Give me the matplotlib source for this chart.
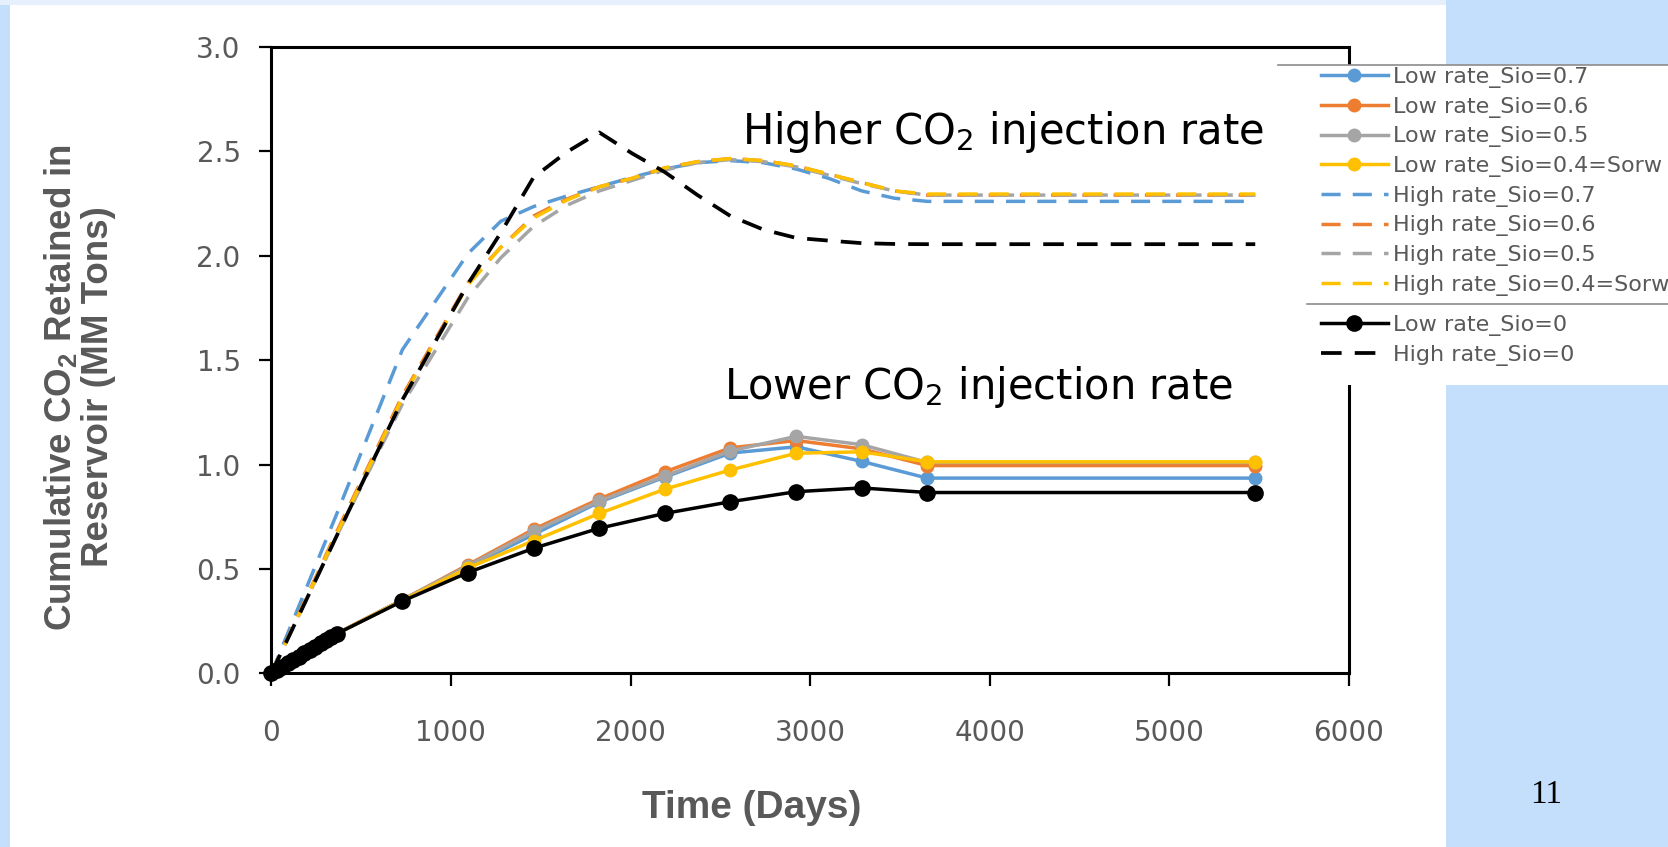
import matplotlib
matplotlib.use("Agg")
import matplotlib.pyplot as plt
from matplotlib.patches import Rectangle
from matplotlib.lines import Line2D


# ---------------------------------------------------------------------------
# Data (cumulative CO2 retained, MM tons)
# ---------------------------------------------------------------------------
days_low = [0, 30, 61, 91, 122, 152, 183, 213, 244, 274, 305, 335, 365,
            730, 1095, 1460, 1826, 2191, 2556, 2922, 3287, 3652, 5478]

low_sio_07 = [0, 0.016, 0.032, 0.048, 0.064, 0.080, 0.096, 0.112, 0.128, 0.144, 0.160, 0.176, 0.191,
              0.352, 0.510, 0.665, 0.820, 0.940, 1.055, 1.085, 1.015, 0.935, 0.935]
low_sio_06 = [0, 0.016, 0.032, 0.048, 0.064, 0.080, 0.096, 0.112, 0.128, 0.144, 0.160, 0.176, 0.191,
              0.352, 0.520, 0.690, 0.835, 0.965, 1.080, 1.115, 1.075, 0.995, 0.995]
low_sio_05 = [0, 0.016, 0.032, 0.048, 0.064, 0.080, 0.096, 0.112, 0.128, 0.144, 0.160, 0.176, 0.191,
              0.352, 0.515, 0.680, 0.825, 0.945, 1.065, 1.135, 1.095, 1.010, 1.010]
low_sio_04 = [0, 0.016, 0.032, 0.048, 0.064, 0.080, 0.096, 0.112, 0.128, 0.144, 0.160, 0.175, 0.190,
              0.350, 0.505, 0.635, 0.766, 0.882, 0.974, 1.054, 1.061, 1.013, 1.013]
low_sio_0 = [0, 0.016, 0.032, 0.048, 0.064, 0.080, 0.096, 0.112, 0.128, 0.144, 0.160, 0.175, 0.190,
             0.346, 0.483, 0.599, 0.695, 0.766, 0.822, 0.870, 0.888, 0.866, 0.866]

days_high = [0, 365, 730, 1095, 1278, 1460, 1643, 1826, 2008, 2191, 2373,
             2556, 2739, 2922, 3104, 3287, 3469, 3652, 5478]

high_sio_07 = [0, 0.765, 1.55, 2.01, 2.165, 2.235, 2.285, 2.33, 2.375, 2.415, 2.445,
               2.455, 2.445, 2.415, 2.37, 2.31, 2.275, 2.26, 2.26]
high_sio_06 = [0, 0.68, 1.33, 1.87, 2.04, 2.19, 2.27, 2.33, 2.37, 2.42, 2.45,
               2.465, 2.455, 2.43, 2.39, 2.35, 2.31, 2.29, 2.29]
high_sio_05 = [0, 0.66, 1.29, 1.80, 1.99, 2.14, 2.24, 2.31, 2.36, 2.41, 2.445,
               2.46, 2.45, 2.425, 2.385, 2.345, 2.31, 2.29, 2.29]
high_sio_04 = [0, 0.67, 1.32, 1.86, 2.04, 2.18, 2.265, 2.33, 2.37, 2.42, 2.45,
               2.465, 2.455, 2.43, 2.39, 2.35, 2.31, 2.295, 2.295]
high_sio_0 = [0, 0.66, 1.31, 1.865, 2.11, 2.375, 2.495, 2.59, 2.49, 2.40, 2.29,
              2.19, 2.125, 2.085, 2.072, 2.06, 2.056, 2.055, 2.055]

labels = ["Low rate_Sio=0.7", "Low rate_Sio=0.6", "Low rate_Sio=0.5", "Low rate_Sio=0.4=Sorw",
          "High rate_Sio=0.7", "High rate_Sio=0.6", "High rate_Sio=0.5", "High rate_Sio=0.4=Sorw",
          "Low rate_Sio=0", "High rate_Sio=0"]

x_ticks = [0, 1000, 2000, 3000, 4000, 5000, 6000]
y_ticks = [0.0, 0.5, 1.0, 1.5, 2.0, 2.5, 3.0]

# ---------------------------------------------------------------------------
# Style
# ---------------------------------------------------------------------------
BLUE, ORANGE, GRAY, YELLOW = "#5B9BD5", "#ED7D31", "#A5A5A5", "#FFC000"
TEXT_GRAY = "#595959"
SLIDE_BLUE = "#C4DFFB"

W, H = 1668, 847

plt.rcParams["mathtext.fontset"] = "custom"
plt.rcParams["mathtext.rm"] = "DejaVu Sans"
plt.rcParams["mathtext.bf"] = "Liberation Sans:bold"


def fx(px):
    return px / W


def fy(py):
    return 1 - py / H


fig = plt.figure(figsize=(W / 100, H / 100), dpi=100, facecolor=SLIDE_BLUE)

# slide picture area (white) with a lighter strip along the top
fig.patches.append(Rectangle((fx(10), 0), fx(1446) - fx(10), fy(5), transform=fig.transFigure,
                             facecolor="white", edgecolor="none", zorder=-2))
fig.patches.append(Rectangle((0, fy(5)), fx(1446), 1 - fy(5), transform=fig.transFigure,
                             facecolor="#E6F0FC", edgecolor="none", zorder=-2))

ax = fig.add_axes([fx(271.3), fy(673.4), fx(1349) - fx(271.3), fy(46.8) - fy(673.4)])
ax.set_facecolor("white")

dash = (5.5, 3.5)
lines = []
for y, c in [(low_sio_07, BLUE), (low_sio_06, ORANGE), (low_sio_05, GRAY), (low_sio_04, YELLOW)]:
    ln, = ax.plot(days_low, y, color=c, lw=2.5, marker="o", ms=9, clip_on=False)
    lines.append(ln)
for y, c in [(high_sio_07, BLUE), (high_sio_06, ORANGE), (high_sio_05, GRAY), (high_sio_04, YELLOW)]:
    ln, = ax.plot(days_high, y, color=c, lw=2.5, ls=(0, dash), clip_on=False)
    lines.append(ln)
ln, = ax.plot(days_low, low_sio_0, color="black", lw=2.5, marker="o", ms=11, clip_on=False)
lines.append(ln)
ln, = ax.plot(days_high, high_sio_0, color="black", lw=2.7, ls=(0, dash), clip_on=False)
lines.append(ln)

ax.set_xlim(0, 6000)
ax.set_ylim(0, 3.0)
ax.set_xticks(x_ticks)
ax.set_yticks(y_ticks)
ax.set_yticklabels([f"{v:.1f}" for v in y_ticks])
for side in ["left", "right", "top", "bottom"]:
    ax.spines[side].set_linewidth(2.2)
    ax.spines[side].set_color("black")
ax.tick_params(axis="both", direction="out", length=9, width=1.6, color="black",
               labelcolor=TEXT_GRAY, labelsize=20)
ax.tick_params(axis="x", pad=24)
ax.tick_params(axis="y", pad=13)
for lab in ax.get_xticklabels() + ax.get_yticklabels():
    lab.set_family("DejaVu Sans")

# axis titles
fig.text(fx(752), fy(808), "Time (Days)", ha="center", va="center", fontsize=28,
         fontweight="bold", color=TEXT_GRAY, family="Liberation Sans")
fig.text(fx(79), fy(387), "Cumulative CO$_\\mathbf{2}$ Retained in\nReservoir (MM Tons)",
         rotation=90, ha="center", va="center", multialignment="center", linespacing=1.03,
         fontsize=26.5, fontweight="bold", color=TEXT_GRAY, family="Liberation Sans")

# annotations
fig.text(fx(741.5), fy(143.6), "Higher CO$_2$ injection rate", ha="left", va="baseline",
         fontsize=30, color="black", family="DejaVu Sans")
fig.text(fx(724.5), fy(399), "Lower CO$_2$ injection rate", ha="left", va="baseline",
         fontsize=30, color="black", family="DejaVu Sans")

# page number
fig.text(fx(1546), fy(803), "11", ha="center", va="baseline", fontsize=24,
         color="black", family="Liberation Serif")

# legend panel
fig.patches.append(Rectangle((fx(1278), fy(385)), 1 - fx(1278), fy(65) - fy(385),
                             transform=fig.transFigure, facecolor="white", edgecolor="none", zorder=5))
fig.lines.append(Line2D([fx(1278), 1], [fy(65), fy(65)], transform=fig.transFigure,
                        color="#8C8C8C", lw=1.2, zorder=6))
fig.lines.append(Line2D([fx(1307), 1], [fy(304), fy(304)], transform=fig.transFigure,
                        color="#8C8C8C", lw=1.2, zorder=6))

leg_kw = dict(loc="upper left", frameon=False, handlelength=3.0, handletextpad=0.25,
              borderpad=0, borderaxespad=0, labelspacing=0.39, labelcolor=TEXT_GRAY,
              prop={"family": "DejaVu Sans", "size": 16})
leg1 = fig.legend(handles=lines[:8], labels=labels[:8], bbox_to_anchor=(fx(1321), fy(67)), **leg_kw)
leg2 = fig.legend(handles=lines[8:], labels=labels[8:], bbox_to_anchor=(fx(1321), fy(315)), **leg_kw)
leg1.set_zorder(7)
leg2.set_zorder(7)

fig.savefig("out.png", dpi=100, facecolor=fig.get_facecolor())
